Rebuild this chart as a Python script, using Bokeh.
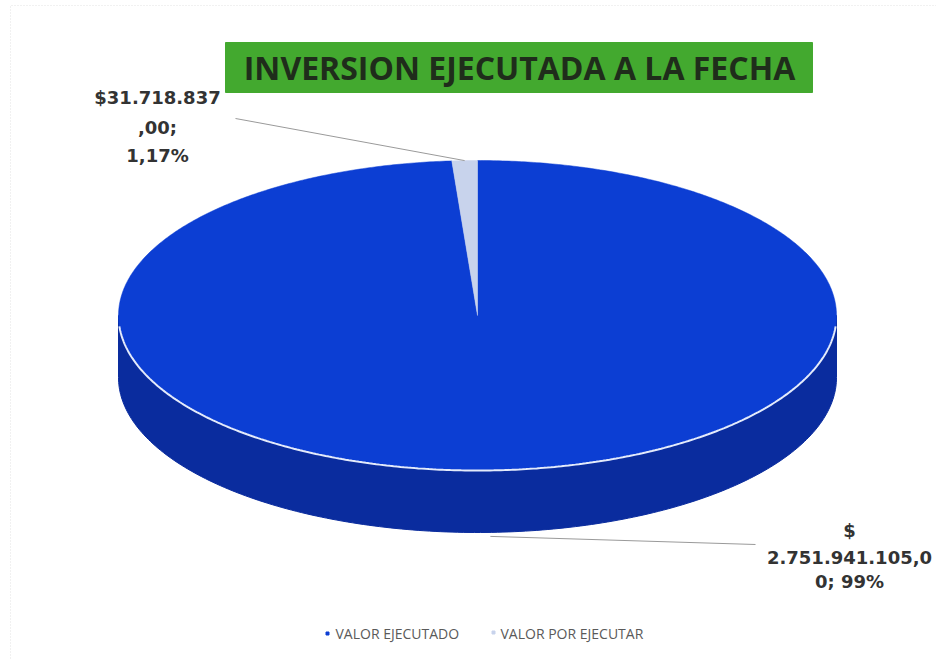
import numpy as np
from bokeh.plotting import figure
from bokeh.models import Range1d
from bokeh.core.properties import value
from bokeh.embed import file_html
from bokeh.resources import INLINE

# ---- data ----
categories = ["VALOR EJECUTADO", "VALOR POR EJECUTAR"]
values = [2751941105.00, 31718837.00]
label_lines = [["$", "2.751.941.105,0", "0; 99%"], ["$31.718.837", ",00;", "1,17%"]]
title_text = "INVERSION EJECUTADA A LA FECHA"
top_colors = ["#0c3ed3", "#c8d3ec"]
side_colors = ["#0a2c9e", "#9aa8cc"]

W, H = 936, 660
p = figure(width=W, height=H, output_backend="svg", toolbar_location=None,
           x_range=Range1d(0, W), y_range=Range1d(H, 0), min_border=0,
           background_fill_color="white", border_fill_color="white")
p.axis.visible = False
p.grid.visible = False
p.outline_line_color = None

# faint frame (scanned chart border)
p.line([10, 10, 936], [658, 5, 5], line_color="#e2e2e2", line_width=1, line_dash="1 2")

# ---- pie geometry (layout) ----
cx, cy, rx, ry, depth = 477, 315, 359, 155, 62

def pt(phi_deg, dy=0.0):
    phi = np.radians(phi_deg)
    return cx + rx * np.sin(phi), cy - ry * np.cos(phi) + dy

total = float(sum(values))
fracs = [v / total for v in values]
starts, ends = [], []
acc = 0.0
for f in fracs:
    starts.append(acc * 360.0)
    acc += f
    ends.append(acc * 360.0)

# side walls (visible front half: 90..270 deg clockwise from top)
for s, e, col in zip(starts, ends, side_colors):
    a, b = max(s, 90.0), min(e, 270.0)
    if b <= a:
        continue
    ph = np.linspace(a, b, 200)
    xt, yt = pt(ph)
    xb, yb = pt(ph[::-1], depth)
    xs = list(xt) + list(xb)
    ys = list(yt) + list(yb)
    p.patch(xs, ys, fill_color=col, line_color=col, line_width=1)

# top faces
for s, e, col in zip(starts, ends, top_colors):
    ph = np.linspace(s, e, max(int((e - s) * 2), 4))
    xe, ye = pt(ph)
    xs = [cx] + list(xe)
    ys = [cy] + list(ye)
    p.patch(xs, ys, fill_color=col, line_color=col, line_width=0.5)

# white rim between top face and side
ph = np.linspace(94, 266, 300)
xr, yr = pt(ph)
p.line(xr, yr, line_color="#e4ebfb", line_width=2)

# ---- leader lines ----
mid0 = (starts[0] + ends[0]) / 2
mid1 = (starts[1] + ends[1]) / 2
x0, y0 = pt(mid0, depth)
x1, y1 = pt(mid1)
p.line([x0, 755], [y0 + 4, 544], line_color="#9a9a9a", line_width=1)
p.line([x1, 235], [y1, 118], line_color="#9a9a9a", line_width=1)

# ---- data labels ----
lab_font = value("DejaVu Sans")
p.text(x=[157, 157, 157], y=[97, 127, 155], text=label_lines[1], text_font=lab_font,
       text_font_size="18px", text_font_style="bold", text_color="#333333",
       text_align="center", text_baseline="middle")
p.text(x=[849, 849, 849], y=[530, 557, 581], text=label_lines[0], text_font=lab_font,
       text_font_size="18px", text_font_style="bold", text_color="#333333",
       text_align="center", text_baseline="middle")

# ---- title box ----
p.quad(left=[225], right=[812], top=[42], bottom=[92], fill_color="#43a92f",
       line_color="#43a92f")
p.text(x=[519], y=[67], text=[title_text], text_font=value("Open Sans"),
       text_font_size="32px", text_font_style="bold", text_color="#1f2d1b",
       text_align="center", text_baseline="middle")

# ---- legend ----
p.scatter(x=[327, 493], y=[633, 632], marker="square", size=3,
          fill_color=top_colors, line_color=top_colors)
p.text(x=[335, 500], y=[633, 633], text=categories, text_font=value("Open Sans"),
       text_font_size="14px", text_color="#5a5a5a", text_align="left",
       text_baseline="middle")

open("out.html", "w").write(file_html(p, INLINE))
